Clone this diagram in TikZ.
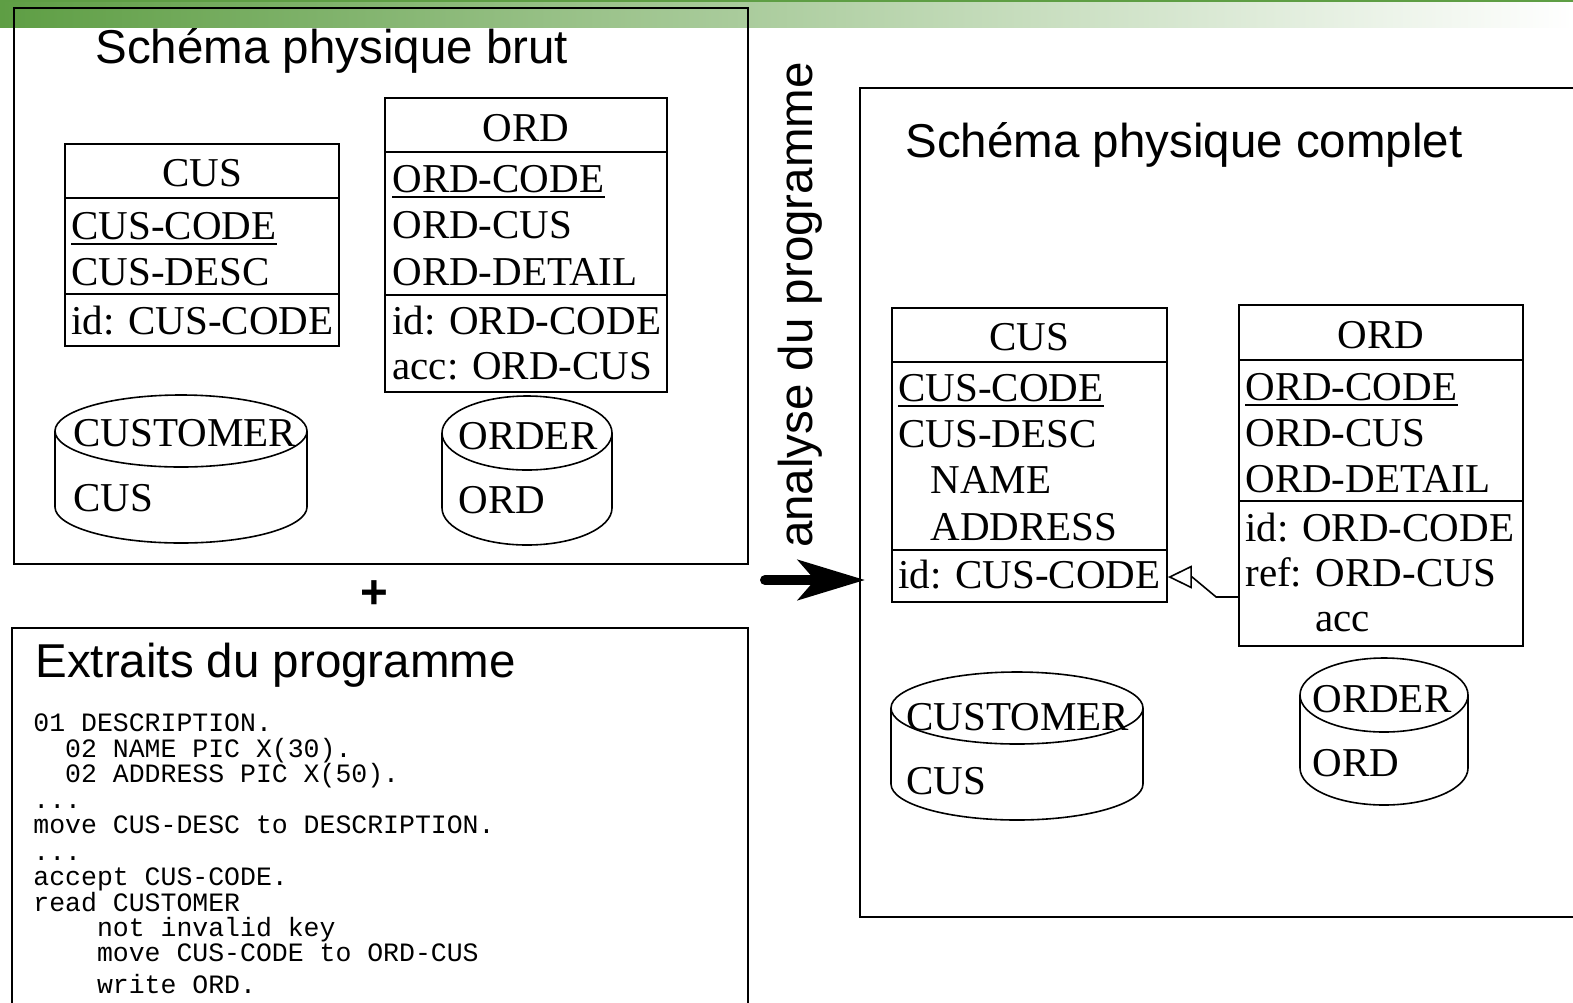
\documentclass[tikz,border=0pt]{standalone}
\usepackage{fontspec}
\setmainfont{Liberation Serif}
\setsansfont{Liberation Sans}
\setmonofont{Liberation Mono}
\usetikzlibrary{arrows.meta,fit}
\definecolor{bargreen}{RGB}{94,158,68}
\newcommand\drawcyl[5]{%
  \draw[cylline] (#1,#2) ellipse [x radius=#3, y radius=#4];
  \draw[cylline] ({#1-#3},#2) -- ({#1-#3},{#2+#5})
    .. controls ({#1-#3},{#2+#5+0.5523*#4}) and ({#1-0.5523*#3},{#2+#5+#4}) .. ({#1},{#2+#5+#4})
    .. controls ({#1+0.5523*#3},{#2+#5+#4}) and ({#1+#3},{#2+#5+0.5523*#4}) .. ({#1+#3},{#2+#5})
    -- ({#1+#3},#2);
}
\begin{document}
\begin{tikzpicture}[x=0.5pt,y=-0.5pt,
  frame/.style={draw, line width=1pt, inner sep=0pt},
  tbl/.style={draw, line width=0.9pt, inner sep=0pt},
  sepline/.style={line width=0.9pt},
  cylline/.style={line width=0.8pt},
  ul/.style={line width=1pt},
  ttl/.style={font=\sffamily\fontsize{23.75pt}{28pt}\selectfont, inner sep=0pt, anchor=base west},
  att/.style={font=\fontsize{20.5pt}{23pt}\selectfont, inner sep=0pt, anchor=base west},
  hdr/.style={font=\fontsize{20.5pt}{23pt}\selectfont, inner sep=0pt, anchor=base},
  code/.style={font=\ttfamily\fontsize{13.25pt}{15pt}\selectfont, inner sep=0pt, anchor=base west}]

\path[use as bounding box] (0,0) rectangle (1573,1002);
\clip (0,0) rectangle (1573,1002);

% top gradient bar
\shade[left color=bargreen, right color=white] (0,0) rectangle (1573,27);
\draw[bargreen, line width=1pt] (0,1) -- (1573,1);

% frames
\node[frame, fit={(14,8) (748,564)}] (box1) {};
\node[frame, fit={(12,628) (748,1040)}] (box2) {};
\node[frame, fit={(860,88) (1620,917)}] (box3) {};

% titles
\node[ttl] (t1) at (95,63) {Schéma physique brut};
\node[ttl] (t2) at (905,157) {Schéma physique complet};
\node[ttl] (t3) at (35,677) {Extraits du programme};
\node[ttl, anchor=base, font=\sffamily\bfseries\fontsize{23.75pt}{28pt}\selectfont] (plus) at (374,608) {+};
\node[ttl, anchor=base, rotate=90] (ana) at (812,305) {analyse du programme};

% ---------- left CUS table
\node[tbl, fit={(65,144) (339,346)}] (cus1) {};
\draw[sepline] (cus1.west |- 0,198) -- (cus1.east |- 0,198);
\draw[sepline] (cus1.west |- 0,294) -- (cus1.east |- 0,294);
\node[hdr] (cus1h) at (202,186) {CUS};
\node[att] (cus1a) at (71,239) {CUS-CODE};
\draw[ul] ([yshift=-2.5pt]cus1a.base west) -- ([yshift=-2.5pt]cus1a.base east);
\node[att] (cus1b) at (71,285) {CUS-DESC};
\node[att] (cus1c) at (71,334) {id: CUS-CODE};

% ---------- left ORD table
\node[tbl, fit={(385,98) (667,392)}] (ord1) {};
\draw[sepline] (ord1.west |- 0,152) -- (ord1.east |- 0,152);
\draw[sepline] (ord1.west |- 0,295) -- (ord1.east |- 0,295);
\node[hdr] (ord1h) at (526,141) {ORD};
\node[att] (ord1a) at (392,192) {ORD-CODE};
\draw[ul] ([yshift=-2.5pt]ord1a.base west) -- ([yshift=-2.5pt]ord1a.base east);
\node[att] (ord1b) at (392,238) {ORD-CUS};
\node[att] (ord1c) at (392,285) {ORD-DETAIL};
\node[att] (ord1d) at (392,334) {id: ORD-CODE};
\node[att] (ord1e) at (392,379) {acc: ORD-CUS};

% ---------- left cylinders
\drawcyl{181}{431}{126}{36}{76}
\node[att] (cy1a) at (73,446) {CUSTOMER};
\node[att] (cy1b) at (73,511) {CUS};
\drawcyl{527}{433}{85}{37}{75}
\node[att] (cy2a) at (458,449) {ORDER};
\node[att] (cy2b) at (458,513) {ORD};

% ---------- program extract
\foreach \i/\xx/\yy/\txt in {
  1/33/731/{01 DESCRIPTION.},
  2/64.8/757/{02 NAME PIC X(30).},
  3/64.8/782/{02 ADDRESS PIC X(50).},
  4/33/808/{...},
  5/33/833/{move CUS-DESC to DESCRIPTION.},
  6/33/860/{...},
  7/33/885/{accept CUS-CODE.},
  8/33/911/{read CUSTOMER},
  9/96.6/936/{not invalid key},
  10/96.6/961/{move CUS-CODE to ORD-CUS},
  11/96.6/993/{write ORD.}}
  \node[code] (c\i) at (\xx,\yy) {\txt};

% ---------- big arrow
\coordinate (arrS) at (765,580);
\draw[line width=5pt, line cap=round, -{Stealth[length=33.5pt,width=20pt,inset=8.5pt]}]
  (arrS) -- ([xshift=3pt]box3.west |- arrS);

% ---------- right CUS table
\node[tbl, fit={(892,308) (1167,602)}] (cus2) {};
\draw[sepline] (cus2.west |- 0,362) -- (cus2.east |- 0,362);
\draw[sepline] (cus2.west |- 0,550) -- (cus2.east |- 0,550);
\node[hdr] (cus2h) at (1029.5,350) {CUS};
\node[att] (cus2a) at (898,401) {CUS-CODE};
\draw[ul] ([yshift=-2.5pt]cus2a.base west) -- ([yshift=-2.5pt]cus2a.base east);
\node[att] (cus2b) at (898,447) {CUS-DESC};
\node[att] (cus2c) at (930,493) {NAME};
\node[att] (cus2d) at (930,540) {ADDRESS};
\node[att] (cus2e) at (898,588) {id: CUS-CODE};

% ---------- right ORD table
\node[tbl, fit={(1239,305) (1523,646)}] (ord2) {};
\draw[sepline] (ord2.west |- 0,360) -- (ord2.east |- 0,360);
\draw[sepline] (ord2.west |- 0,501) -- (ord2.east |- 0,501);
\node[hdr] (ord2h) at (1381,348) {ORD};
\node[att] (ord2a) at (1245,400) {ORD-CODE};
\draw[ul] ([yshift=-2.5pt]ord2a.base west) -- ([yshift=-2.5pt]ord2a.base east);
\node[att] (ord2b) at (1245,446) {ORD-CUS};
\node[att] (ord2c) at (1245,492) {ORD-DETAIL};
\node[att] (ord2d) at (1245,541) {id: ORD-CODE};
\node[att] (ord2e) at (1245,586) {ref: ORD-CUS};
\node[att] (ord2f) at (1315,631) {acc};

% reference connector
\coordinate (refy) at (0,597);
\coordinate (idy) at (0,577);
\draw[line width=0.8pt, -{Triangle[open,length=12pt,width=11.5pt]}]
  (ord2.west |- refy) -- ++(-22,0) -- ++(-24,-20) -- (cus2.east |- idy);

% ---------- right cylinders
\drawcyl{1017}{708}{126}{36}{76}
\node[att] (cy3a) at (906,730) {CUSTOMER};
\node[att] (cy3b) at (906,794) {CUS};
\drawcyl{1384}{695}{84}{37}{73}
\node[att] (cy4a) at (1312,712) {ORDER};
\node[att] (cy4b) at (1312,776) {ORD};
\end{tikzpicture}
\end{document}
